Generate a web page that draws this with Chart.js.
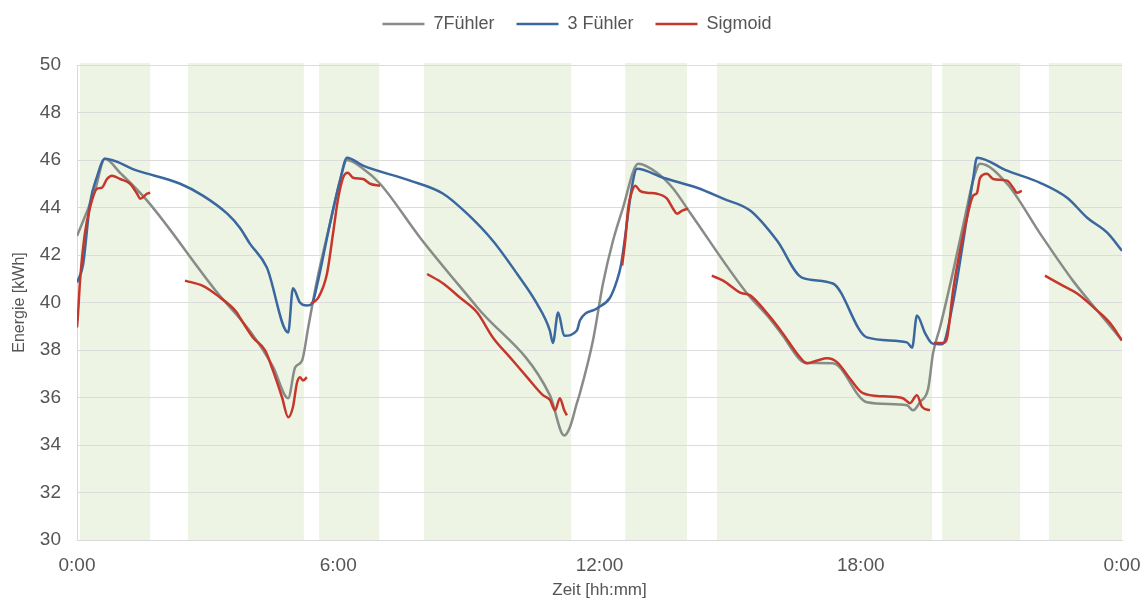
<!DOCTYPE html>
<html>
<head>
<meta charset="utf-8">
<script src="https://cdn.jsdelivr.net/npm/chart.js@4.4.1/dist/chart.umd.min.js"></script>
<style>
  html, body { margin: 0; padding: 0; background: #fff; }
  .chart { position: relative; width: 1148px; height: 601px; }
</style>
</head>
<body>
<div class="chart"><canvas id="c"></canvas></div>
<script>
// time axis in hours (0 .. 24), energy in kWh
const xTickLabels = ['0:00', '6:00', '12:00', '18:00', '0:00'];

// green shaded periods
const bandStart = [0.07, 2.55, 5.56, 7.97, 12.59, 14.70, 19.87, 22.32];
const bandEnd   = [1.68, 5.21, 6.94, 11.35, 14.01, 19.64, 21.66, 24.0];

// 7Fühler
const grayHours = [0, 0.41, 0.64, 0.99, 1.61, 3.22, 3.97, 4.50, 4.85, 5.01, 5.17, 5.31, 5.51, 5.81, 6.04, 6.20,
  6.57, 6.96, 7.88, 9.19, 10.86, 11.19, 11.32, 11.48, 11.55, 11.85, 12.08, 12.31, 12.52, 12.89, 13.32, 13.69,
  14.08, 15.39, 15.85, 16.21, 16.60, 16.77, 17.36, 18.14, 19.06, 19.20, 19.36, 19.55, 19.66, 19.82, 20.12,
  20.39, 20.58, 20.74, 21.36, 22.12, 22.88, 23.43, 24.0];
const grayValues = [42.8, 44.7, 46.05, 45.46, 44.29, 40.42, 38.8, 37.3, 35.97, 37.27, 37.56, 38.95, 40.92, 43.32, 45.13, 46.0,
  45.63, 45.0, 42.73, 39.8, 36.1, 34.4, 34.75, 35.76, 36.18, 38.4, 40.8, 42.6, 43.87, 45.84, 45.46, 44.8,
  43.78, 40.38, 39.45, 38.6, 37.6, 37.45, 37.44, 35.8, 35.67, 35.46, 35.8, 36.39, 37.86, 38.95, 41.3,
  43.57, 45.13, 45.84, 45.0, 42.9, 40.9, 39.66, 38.4];

// 3 Fühler
const blueHours = [0, 0.14, 0.30, 0.46, 0.64, 1.38, 2.37, 2.89, 3.45, 3.74, 3.97, 4.36, 4.85, 4.96, 5.12, 5.28, 5.40,
  5.51, 5.81, 6.04, 6.20, 6.57, 7.65, 8.41, 8.96, 9.55, 10.11, 10.56, 10.86, 10.93, 11.05, 11.19, 11.48, 11.55,
  11.94, 12.24, 12.40, 12.49, 12.77, 12.86, 13.46, 14.24, 14.84, 15.46, 16.08, 16.65, 17.36, 18.14, 19.06,
  19.18, 19.29, 19.48, 19.64, 19.87, 20.12, 20.39, 20.58, 20.67, 21.36, 22.12, 22.74, 23.20, 23.66, 24.0];
const blueValues = [40.84, 41.6, 44.2, 45.3, 46.05, 45.55, 45.0, 44.5, 43.74, 43.15, 42.48, 41.47, 38.74, 40.6, 40.0, 39.87, 39.96,
  40.7, 43.32, 45.13, 46.1, 45.76, 45.13, 44.58, 43.74, 42.6, 41.2, 39.96, 38.82, 38.3, 39.58, 38.6, 38.82, 39.24,
  39.75, 40.2, 40.92, 41.55, 45.13, 45.63, 45.25, 44.83, 44.37, 43.87, 42.6, 41.05, 40.8, 38.53, 38.32,
  38.1, 39.45, 38.7, 38.28, 38.24, 40.0, 43.0, 45.2, 46.1, 45.55, 45.04, 44.41, 43.57, 42.94, 42.18];

// Sigmoid (null = gap)
const redHours = [0, 0.02, 0.07, 0.18, 0.30, 0.46, 0.57, 0.69, 0.80, 0.99, 1.22, 1.38, 1.45, 1.61, 1.68,
  2.0,
  2.48, 2.89, 3.22, 3.67, 3.74, 4.04, 4.32, 4.50, 4.71, 4.85, 4.96, 5.05, 5.12, 5.19, 5.28,
  5.34,
  5.38, 5.54, 5.74, 5.88, 5.99, 6.11, 6.22, 6.34, 6.57, 6.73, 6.96,
  7.5,
  8.04, 8.41, 8.80, 9.19, 9.55, 9.94, 10.34, 10.70, 10.86, 10.98, 11.09, 11.19, 11.25,
  12.0,
  12.52, 12.59, 12.66, 12.75, 12.82, 12.93, 13.09, 13.32, 13.55, 13.69, 13.78, 13.90, 14.03,
  14.3,
  14.58, 14.84, 15.23, 15.46, 15.85, 16.21, 16.60, 16.77, 17.00, 17.23, 17.46, 17.75, 18.05, 18.51, 18.97,
  19.13, 19.29, 19.41, 19.59,
  19.62,
  19.68, 19.90, 19.98, 20.12, 20.28, 20.44, 20.58, 20.67, 20.74, 20.90, 21.04, 21.36, 21.50, 21.59, 21.70,
  22.0,
  22.23, 22.65, 22.97, 23.43, 23.73, 24.0];
const redValues = [38.95, 39.4, 40.92, 42.9, 44.0, 44.79, 44.83, 45.2, 45.34, 45.2, 45.0, 44.58, 44.37, 44.58, 44.62,
  null,
  40.92, 40.7, 40.3, 39.58, 39.37, 38.53, 37.98, 37.14, 36.0, 35.17, 35.6, 36.6, 36.85, 36.72, 36.85,
  null,
  39.95, 40.2, 41.2, 42.9, 44.3, 45.25, 45.46, 45.25, 45.2, 45.0, 44.92,
  null,
  41.2, 40.8, 40.2, 39.58, 38.53, 37.7, 36.85, 36.1, 35.9, 35.46, 35.97, 35.46, 35.25,
  null,
  41.55, 42.6, 43.99, 44.7, 44.92, 44.7, 44.62, 44.58, 44.37, 43.95, 43.74, 43.87, 43.95,
  null,
  41.13, 40.92, 40.42, 40.3, 39.54, 38.7, 37.7, 37.44, 37.56, 37.65, 37.48, 36.8, 36.18, 36.05, 35.97,
  35.76, 36.1, 35.6, 35.46,
  null,
  38.3, 38.3, 38.49, 40.5, 42.18, 43.57, 44.5, 44.62, 45.25, 45.42, 45.2, 45.13, 44.83, 44.62, 44.7,
  null,
  41.13, 40.7, 40.38, 39.66, 39.12, 38.4];

const toPoints = (hours, values) => hours.map((h, i) => ({ x: h, y: values[i] }));

// draws the green periods under the grid
const bandsPlugin = {
  id: 'bands',
  beforeDraw(chart) {
    const { ctx, chartArea, scales } = chart;
    ctx.save();
    ctx.fillStyle = '#edf4e4';
    bandStart.forEach((s, i) => {
      const x1 = scales.x.getPixelForValue(s);
      const x2 = scales.x.getPixelForValue(bandEnd[i]);
      ctx.fillRect(x1, chartArea.top - 2, x2 - x1, chartArea.bottom - chartArea.top + 2);
    });
    ctx.restore();
  }
};

// extra space under the legend, and nudge it a bit to the right
const legendTweak = {
  id: 'legendTweak',
  beforeInit(chart) {
    const fit = chart.legend.fit;
    chart.legend.fit = function () {
      fit.bind(chart.legend)();
      this.height += 22;
    };
  },
  afterLayout(chart) {
    chart.legend.left += 16;
    chart.legend.right += 16;
  }
};

const font = 'Liberation Sans, Arial, sans-serif';
const textColor = '#555555';

new Chart(document.getElementById('c'), {
  type: 'line',
  data: {
    datasets: [
      { label: '7Fühler', data: toPoints(grayHours, grayValues), borderColor: '#878c87', backgroundColor: '#878c87', borderWidth: 2.5, order: 3 },
      { label: '3 Fühler', data: toPoints(blueHours, blueValues), borderColor: '#3b679f', backgroundColor: '#3b679f', borderWidth: 2.5, order: 2 },
      { label: 'Sigmoid', data: toPoints(redHours, redValues), borderColor: '#c5372b', backgroundColor: '#c5372b', borderWidth: 2.5, order: 1 }
    ]
  },
  options: {
    responsive: true,
    maintainAspectRatio: false,
    animation: false,
    spanGaps: false,
    layout: { padding: { left: 0, right: 26, top: -7, bottom: 0 } },
    elements: {
      point: { radius: 0, hoverRadius: 0 },
      line: { cubicInterpolationMode: 'monotone', fill: false }
    },
    plugins: {
      legend: {
        position: 'top',
        labels: {
          usePointStyle: true,
          pointStyle: 'line',
          pointStyleWidth: 42,
          boxHeight: 18,
          padding: 22,
          color: textColor,
          font: { family: font, size: 18 },
          sort: (a, b) => a.datasetIndex - b.datasetIndex
        }
      },
      tooltip: { enabled: false }
    },
    scales: {
      x: {
        type: 'linear',
        min: 0,
        max: 24,
        grid: { display: false, drawTicks: false },
        border: { display: true, color: '#d9d9d9' },
        ticks: {
          stepSize: 6,
          padding: 14,
          color: textColor,
          font: { family: font, size: 19 },
          callback: (v) => xTickLabels[v / 6]
        },
        title: { display: true, text: 'Zeit [hh:mm]', color: textColor, font: { family: font, size: 17 }, padding: { top: 1, bottom: 0 } },
        afterFit(scale) {
          scale.height = 61;
          scale.paddingLeft = 0;
          scale.paddingRight = 0;
        }
      },
      y: {
        min: 30,
        max: 50,
        grid: { color: '#dcdcdc', drawTicks: false },
        border: { display: true, color: '#d9d9d9' },
        ticks: { stepSize: 2, padding: 16, color: textColor, font: { family: font, size: 19 } },
        title: { display: true, text: 'Energie [kWh]', color: textColor, font: { family: font, size: 16 }, padding: { top: 10, bottom: 0 } },
        afterFit(scale) { scale.width = 77; }
      }
    }
  },
  plugins: [bandsPlugin, legendTweak]
});
</script>
</body>
</html>
